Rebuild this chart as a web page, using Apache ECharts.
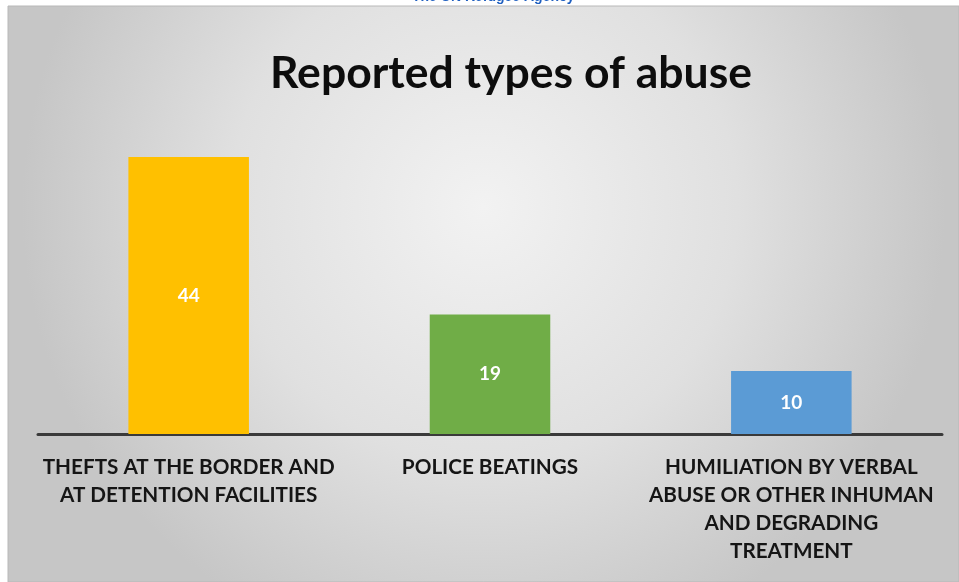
<!DOCTYPE html>
<html><head><meta charset="utf-8">
<script src="https://cdn.jsdelivr.net/npm/echarts@6/dist/echarts.min.js"></script>
<style>html,body{margin:0;padding:0;background:#fff}#c{width:959px;height:582px}</style>
</head><body><div id="c"></div>
<script>
const categories = ['THEFTS AT THE BORDER AND\nAT DETENTION FACILITIES', 'POLICE BEATINGS', 'HUMILIATION BY VERBAL\nABUSE OR OTHER INHUMAN\nAND DEGRADING\nTREATMENT'];
const values = [44, 19, 10];
const barColors = ['#ffc000', '#70ad47', '#5b9bd5'];

const chart = echarts.init(document.getElementById('c'), null, {renderer: 'canvas'});
chart.setOption({
  backgroundColor: '#ffffff',
  graphic: [
    {type: 'text', left: 412, top: -10, z: 0, style: {text: 'The UN Refugee Agency', fill: '#1f5fc0', font: 'bold 14px "Liberation Sans", Arial'}},
    {type: 'rect', shape: {x: 8, y: 6, width: 951, height: 576}, z: -1, silent: true,
      style: {fill: new echarts.graphic.RadialGradient(0.5, 0.35, 0.8, [
        {offset: 0, color: '#f2f2f2'}, {offset: 0.55, color: '#e0e0e0'}, {offset: 1, color: '#c6c6c6'}]),
        stroke: '#b8b8b8', lineWidth: 1}}
  ],
  title: {
    text: 'Reported types of abuse', left: 506, top: 46, textAlign: 'center',
    textStyle: {fontFamily: 'Lato', fontWeight: 'bold', fontSize: 44.5, color: '#0d0d0d'}
  },
  grid: {left: 38, right: 17, top: 157, bottom: 148, containLabel: false},
  xAxis: {
    type: 'category', data: categories,
    axisLine: {lineStyle: {color: '#3a3a3a', width: 3}},
    axisTick: {show: false},
    axisLabel: {interval: 0, margin: 19, color: '#151515', fontFamily: 'Lato', fontWeight: 'bold', fontSize: 20.7, lineHeight: 28, verticalAlign: 'top'}
  },
  yAxis: {type: 'value', min: 0, max: 44, show: false, splitLine: {show: false}},
  series: [{
    type: 'bar', barWidth: '40%',
    data: values.map((v, i) => ({value: v, itemStyle: {color: barColors[i]}})),
    label: {show: true, position: 'inside', color: '#ffffff', fontFamily: 'Lato', fontWeight: 'bold', fontSize: 19}
  }]
});
</script></body></html>
